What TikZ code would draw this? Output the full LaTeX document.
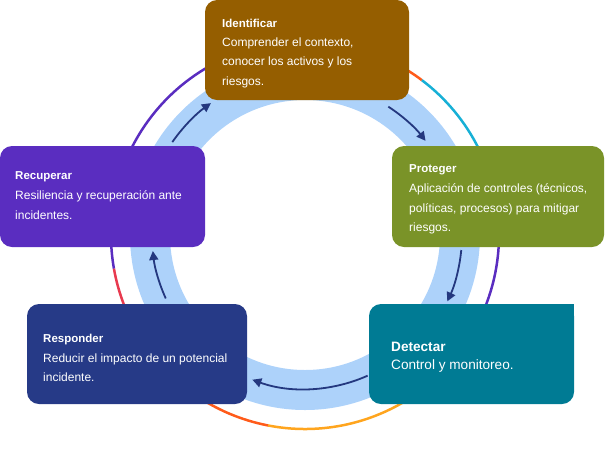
\documentclass[tikz,border=0pt]{standalone}
\usepackage{fontspec}
\setmainfont{Liberation Sans}
\usetikzlibrary{arrows.meta}
\definecolor{cIdent}{RGB}{149,94,0}
\definecolor{cProt}{RGB}{122,147,40}
\definecolor{cDetect}{RGB}{0,123,148}
\definecolor{cResp}{RGB}{38,58,135}
\definecolor{cRecup}{RGB}{90,45,192}
\definecolor{cRing}{RGB}{173,210,250}
\definecolor{cArrow}{RGB}{36,56,127}
\definecolor{cPurple}{RGB}{90,45,192}
\definecolor{cRed}{RGB}{232,58,79}
\definecolor{cOrange}{RGB}{255,91,26}
\definecolor{cYellow}{RGB}{255,165,30}
\definecolor{cCyan}{RGB}{23,176,214}
\newcommand{\boxtitle}[1]{{\bfseries\fontsize{11.5}{19.7}\selectfont #1}}
\begin{document}
\begin{tikzpicture}[x=1pt,y=-1pt,
  stepbox/.style={rectangle, rounded corners=12pt, inner sep=0pt, minimum height=100pt},
  boxtext/.style={anchor=base west, align=left, text=white, inner sep=0pt,
    font=\fontsize{12}{19.7}\selectfont},
  flow/.style={draw=cArrow, line width=1.8pt, -{Triangle[length=9pt,width=9pt]}},
  halo/.style={line width=2.5pt},
  ring/.style={draw=cRing, line width=40pt}]
\useasboundingbox (0,0) rectangle (605,456);%
\coordinate (c) at (305,235);%

% Drawing outer circle
\draw [halo, cPurple] (c) ++(-95:194) arc[start angle=-95, end angle=-190, radius=194];%
\draw [halo, cRed] (c) ++(-190:194) arc[start angle=-190, end angle=-235, radius=194];%
\draw [halo, cOrange] (c) ++(-235:194) arc[start angle=-235, end angle=-259, radius=194];%
\draw [halo, cYellow] (c) ++(-259:194) arc[start angle=-259, end angle=-320, radius=194];%
\draw [halo, cPurple] (c) ++(40:194) arc[start angle=40, end angle=0, radius=194];%
\draw [halo, cCyan] (c) ++(0:194) arc[start angle=0, end angle=-53, radius=194];%
\draw [halo, cOrange] (c) ++(-53:194) arc[start angle=-53, end angle=-95, radius=194];%

% Drawing light ring
\draw [ring] (c) circle[radius=155];%

% Drawing arrows
\draw [flow] (c) ++(-57:153) arc[start angle=-57, end angle=-38, radius=153];%
\draw [flow] (c) ++(5.5:157) arc[start angle=5.5, end angle=25, radius=157];%
\draw [flow] (c) ++(66:154) arc[start angle=66, end angle=110, radius=154];%
\draw [flow] (c) ++(155.5:153) arc[start angle=155.5, end angle=174, radius=153];%
\draw [flow] (c) ++(-145:162) arc[start angle=-145, end angle=-125.5, radius=162];%

% Drawing box Identificar
\node [stepbox, fill=cIdent, minimum width=204pt] (ident) at (307,50) {};%
\node [boxtext, font=\fontsize{12}{19.3}\selectfont] (identtxt) at (222,85) {\boxtitle{Identificar}\\Comprender el contexto,\\conocer los activos y los\\riesgos.};%

% Drawing box Proteger
\node [stepbox, fill=cProt, minimum width=212pt, minimum height=101pt] (prot) at (498,196.5) {};%
\node [boxtext] (prottxt) at (409,231.7) {\boxtitle{Proteger}\\Aplicación de controles (técnicos,\\políticas, procesos) para mitigar\\riesgos.};%

% Drawing box Detectar
\node [stepbox, fill=cDetect, minimum width=205pt] (detect) at (471.5,354) {};%
\fill [cDetect] (detect.north east) rectangle ++(-14,14);%
\node [boxtext, font=\fontsize{13.6}{18}\selectfont] (detecttxt) at (391,369.5) {\textbf{Detectar}\\Control y monitoreo.};%

% Drawing box Responder
\node [stepbox, fill=cResp, minimum width=220pt] (resp) at (137,354) {};%
\node [boxtext] (resptxt) at (43,381.7) {\boxtitle{Responder}\\Reducir el impacto de un potencial\\incidente.};%

% Drawing box Recuperar
\node [stepbox, fill=cRecup, minimum width=205pt, minimum height=101pt] (recup) at (102.5,196.5) {};%
\node [boxtext] (recuptxt) at (15,219) {\boxtitle{Recuperar}\\Resiliencia y recuperación ante\\incidentes.};%
\end{tikzpicture}
\end{document}
